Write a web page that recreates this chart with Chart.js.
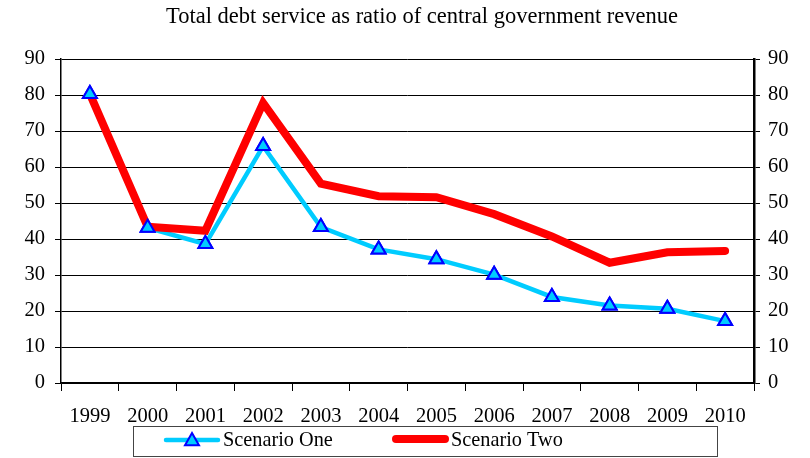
<!DOCTYPE html>
<html>
<head>
<meta charset="utf-8">
<script src="https://cdn.jsdelivr.net/npm/chart.js@4.4.1/dist/chart.umd.min.js"></script>
<style>
  html, body { margin: 0; padding: 0; background: #fff; }
  #wrap { width: 810px; height: 458px; position: relative; }
</style>
</head>
<body>
<div id="wrap"><canvas id="chart"></canvas></div>
<script>
const years = ['1999', '2000', '2001', '2002', '2003', '2004', '2005', '2006', '2007', '2008', '2009', '2010'];
const scenarioOne = [80.3, 43.1, 38.6, 65.8, 43.3, 37.1, 34.4, 30.1, 23.9, 21.5, 20.6, 17.2];
const scenarioTwo = [80.3, 43.4, 42.3, 77.8, 55.4, 51.9, 51.6, 46.9, 40.7, 33.4, 36.3, 36.7];
const titleText = 'Total debt service as ratio of central government revenue';

const SERIF = '"Liberation Serif", "Times New Roman", serif';
const CYAN = '#00CCFF';
const BLUE = '#0000FF';
const RED = '#FF0000';

// Excel draws all lines first and the markers last
const markersOnTop = {
    id: 'markersOnTop',
    afterDatasetsDraw(chart) {
        const ctx = chart.ctx;
        chart.getDatasetMeta(0).data.forEach(p => p.draw(ctx, chart.chartArea));
    },
};

const titleAndLegend = {
    id: 'titleAndLegend',
    afterDraw(chart) {
        const ctx = chart.ctx;
        ctx.save();
        ctx.fillStyle = '#000';
        ctx.font = '22.5px ' + SERIF;
        ctx.textAlign = 'center';
        ctx.textBaseline = 'alphabetic';
        ctx.fillText(titleText, 422, 23);

        // legend box
        ctx.strokeStyle = '#444';
        ctx.lineWidth = 1;
        ctx.strokeRect(133.5, 426.5, 584, 30);

        const ly = 440;
        ctx.lineCap = 'round';
        ctx.strokeStyle = CYAN;
        ctx.lineWidth = 4.5;
        ctx.beginPath(); ctx.moveTo(166, ly); ctx.lineTo(218, ly); ctx.stroke();
        ctx.fillStyle = CYAN;
        ctx.strokeStyle = BLUE;
        ctx.lineWidth = 2;
        ctx.lineCap = 'butt';
        const r = 7;
        ctx.beginPath();
        ctx.moveTo(192, ly - r);
        ctx.lineTo(192 + r, ly + r * 0.75);
        ctx.lineTo(192 - r, ly + r * 0.75);
        ctx.closePath();
        ctx.fill(); ctx.stroke();

        ctx.lineCap = 'round';
        ctx.strokeStyle = RED;
        ctx.lineWidth = 8;
        ctx.beginPath(); ctx.moveTo(396, ly - 1); ctx.lineTo(445, ly - 1); ctx.stroke();

        ctx.fillStyle = '#000';
        ctx.font = '20.3px ' + SERIF;
        ctx.textAlign = 'left';
        ctx.textBaseline = 'middle';
        ctx.fillText('Scenario One', 223, ly + 1);
        ctx.fillText('Scenario Two', 451, ly + 1);
        ctx.restore();
    },
};

const yTicks = {
    font: { family: SERIF, size: 20.5 },
    color: '#000',
    stepSize: 10,
};

new Chart(document.getElementById('chart'), {
    type: 'line',
    data: {
        labels: years,
        datasets: [
            {
                label: 'Scenario One',
                data: scenarioOne,
                borderColor: CYAN,
                backgroundColor: CYAN,
                borderWidth: 4.5,
                tension: 0,
                pointStyle: 'triangle',
                pointRadius: 8,
                pointBackgroundColor: CYAN,
                pointBorderColor: BLUE,
                pointBorderWidth: 2,
                yAxisID: 'y',
                order: 2,
            },
            {
                label: 'Scenario Two',
                data: scenarioTwo,
                borderColor: RED,
                backgroundColor: RED,
                borderWidth: 8,
                borderCapStyle: 'round',
                tension: 0,
                pointRadius: 0,
                yAxisID: 'y',
                order: 1,
            },
        ],
    },
    options: {
        responsive: true,
        maintainAspectRatio: false,
        animation: false,
        layout: { padding: { top: 59, bottom: 0, left: 0, right: 0 } },
        plugins: {
            legend: { display: false },
            title: { display: false },
            tooltip: { enabled: false },
        },
        scales: {
            x: {
                offset: true,
                grid: {
                    offset: true,
                    drawOnChartArea: false,
                    drawTicks: true,
                    tickLength: 8,
                    color: '#000',
                },
                border: { color: '#000', width: 1.5 },
                ticks: {
                    font: { family: SERIF, size: 20.5 },
                    color: '#000',
                    padding: 13,
                    maxRotation: 0,
                    autoSkip: false,
                },
                afterFit: s => { s.height = 75; },
            },
            y: {
                position: 'left',
                min: 0,
                max: 90,
                grid: { color: '#000', lineWidth: 1, tickLength: 6 },
                border: { color: '#000', width: 1.5 },
                ticks: Object.assign({ padding: 10 }, yTicks),
                afterFit: s => { s.width = 61; },
            },
            y2: {
                position: 'right',
                min: 0,
                max: 90,
                grid: { drawOnChartArea: false, color: '#000', tickLength: 6 },
                border: { color: '#000', width: 2.5 },
                ticks: Object.assign({ padding: 8 }, yTicks),
                afterFit: s => { s.width = 56; },
            },
        },
    },
    plugins: [markersOnTop, titleAndLegend],
});
</script>
</body>
</html>
